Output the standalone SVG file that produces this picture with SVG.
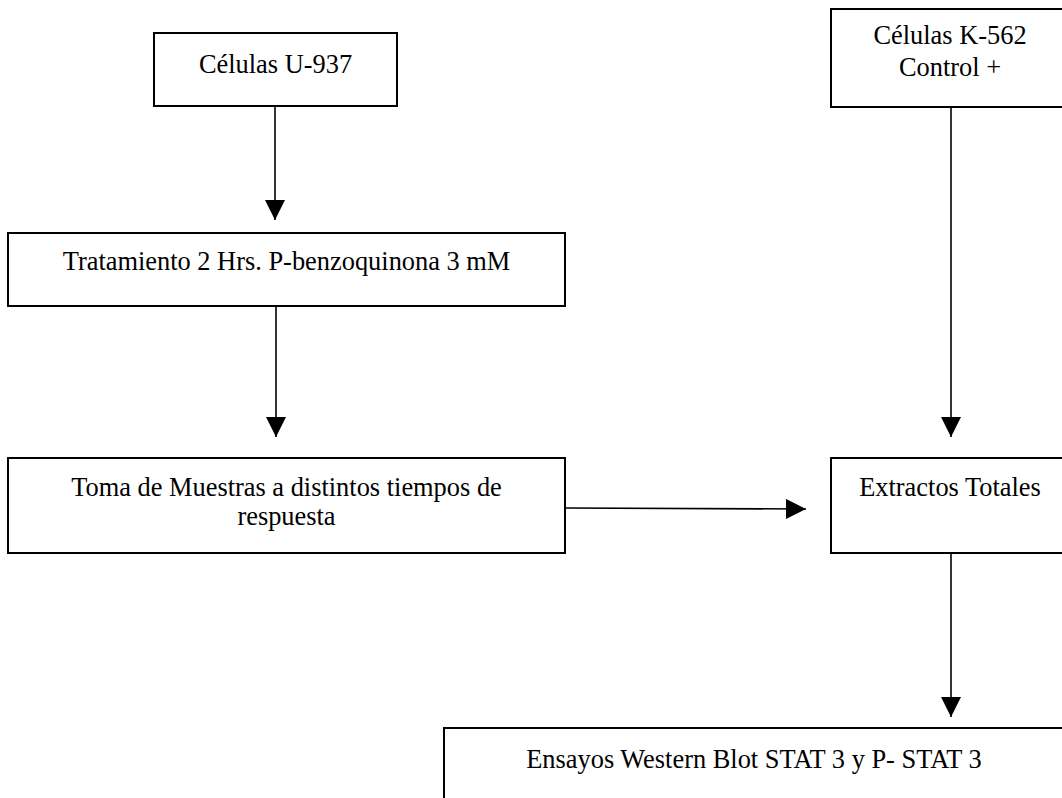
<svg xmlns="http://www.w3.org/2000/svg" width="1062" height="798" viewBox="0 0 1062 798">
<defs>
<style>
.box{fill:#fff;stroke:#000;stroke-width:2}
.t{font-family:"Liberation Serif","Times New Roman",serif;font-size:26.4px;fill:#000;text-anchor:middle}
.c{stroke:#000;stroke-width:1.6;fill:none;marker-end:url(#ah)}
</style>
<marker id="ah" markerUnits="userSpaceOnUse" markerWidth="20" markerHeight="20" refX="20" refY="10" orient="auto" viewBox="0 0 20 20">
<path d="M0,0 L20,10 L0,20 z" fill="#000"/>
</marker>
</defs>
<rect width="1062" height="798" fill="#fff"/>
<g id="connectors">
<line class="c" x1="275" y1="106" x2="275" y2="220"/>
<line class="c" x1="276" y1="306" x2="276" y2="437"/>
<line class="c" x1="951" y1="107" x2="951" y2="437"/>
<line class="c" x1="565" y1="508" x2="806" y2="509"/>
<line class="c" x1="951" y1="553" x2="951" y2="717"/>
</g>
<g id="n-u937">
<rect class="box" x="154" y="33" width="243" height="73"/>
<text class="t" x="275.5" y="73">Células U-937</text>
</g>
<g id="n-k562">
<rect class="box" x="831" y="9" width="240" height="98"/>
<text class="t" x="950" y="44">Células K-562</text>
<text class="t" x="950" y="76">Control +</text>
</g>
<g id="n-tratamiento">
<rect class="box" x="8" y="233" width="557" height="73"/>
<text class="t" x="286.5" y="270">Tratamiento 2 Hrs. P-benzoquinona 3 mM</text>
</g>
<g id="n-toma">
<rect class="box" x="8" y="458" width="557" height="95"/>
<text class="t" x="286.5" y="496">Toma de Muestras a distintos tiempos de</text>
<text class="t" x="286.5" y="525">respuesta</text>
</g>
<g id="n-extractos">
<rect class="box" x="831" y="458" width="240" height="95"/>
<text class="t" x="950" y="496">Extractos Totales</text>
</g>
<g id="n-ensayos">
<rect class="box" x="444" y="728" width="700" height="200"/>
<text class="t" x="754" y="768">Ensayos Western Blot STAT 3 y P- STAT 3</text>
</g>
</svg>
